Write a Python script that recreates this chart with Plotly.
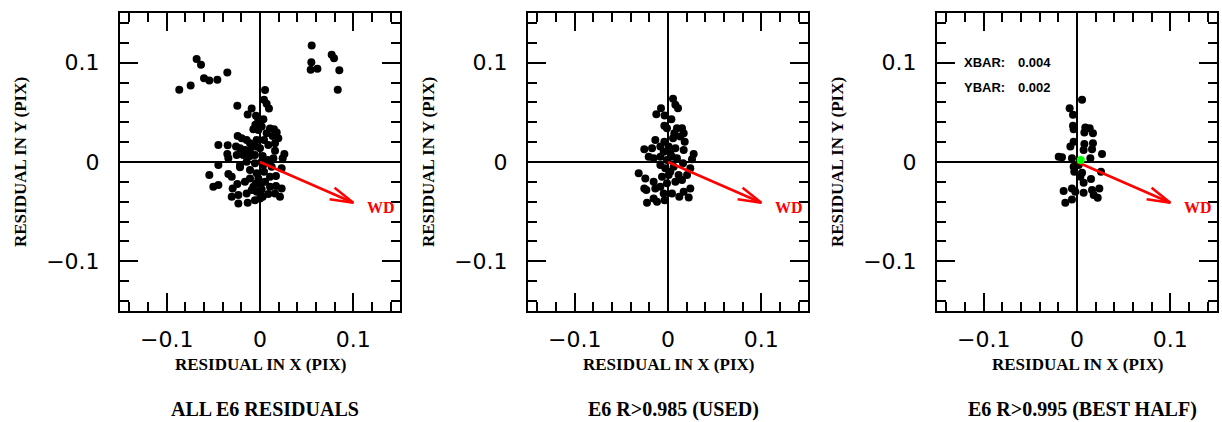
import math
import plotly.graph_objects as go

W, H = 1222, 422

# ---------------- data (residuals in pixels) ----------------
x_all = [-0.0865, -0.0743, -0.0679, -0.0632, -0.0600, -0.0543, -0.0457, -0.0350,
         0.0554, 0.0550, 0.0543, 0.0615, 0.0768, 0.0793, 0.0850, 0.0833,
         0.0054, 0.0043, 0.0071, 0.0096, -0.0243, -0.0089, -0.0132, -0.0043, 0.0036,
         -0.0050, -0.0071, -0.0018, 0.0107, 0.0150, 0.0179, 0.0071, 0.0136, 0.0196,
         -0.0239, -0.0196, -0.0143, -0.0107, -0.0036, 0.0043, 0.0089, 0.0161,
         -0.0446, -0.0346, -0.0257, -0.0214, -0.0161, -0.0107, -0.0046, 0.0000, 0.0161,
         -0.0350, -0.0339, -0.0250, -0.0179, -0.0107, -0.0054, 0.0029, 0.0089, 0.0143,
         0.0261, 0.0243, -0.0446, -0.0214, -0.0143, -0.0054, 0.0036, 0.0125, 0.0232,
         -0.0543, -0.0339, -0.0303, -0.0214, -0.0107, -0.0036, 0.0043, 0.0107, 0.0171,
         -0.0500, -0.0446, -0.0293, -0.0243, -0.0161, -0.0107, -0.0043, 0.0054, 0.0107,
         0.0171, 0.0232, -0.0303, -0.0232, -0.0143, -0.0089, -0.0036, 0.0018, 0.0089,
         0.0161, 0.0214, -0.0232, -0.0132, -0.0054, 0.0000,
         -0.0018, 0.0018, 0.0018, -0.0018, 0.0007, -0.0071, 0.0029]
y_all = [0.0727, 0.0771, 0.1037, 0.0980, 0.0842, 0.0821, 0.0828, 0.0902,
         0.1172, 0.1003, 0.0929, 0.0939, 0.1080, 0.1044, 0.0923, 0.0727,
         0.0724, 0.0626, 0.0586, 0.0539, 0.0566, 0.0539, 0.0478, 0.0465, 0.0431,
         0.0374, 0.0330, 0.0323, 0.0337, 0.0330, 0.0296, 0.0290, 0.0263, 0.0239,
         0.0263, 0.0239, 0.0222, 0.0189, 0.0222, 0.0222, 0.0172, 0.0189,
         0.0172, 0.0168, 0.0155, 0.0138, 0.0121, 0.0121, 0.0155, 0.0138, 0.0114,
         0.0081, 0.0037, 0.0071, 0.0071, 0.0061, 0.0071, 0.0061, 0.0020, 0.0037,
         0.0081, 0.0037, -0.0030, -0.0030, 0.0003, -0.0013, -0.0030, -0.0047, -0.0064,
         -0.0131, -0.0121, -0.0148, -0.0054, -0.0081, -0.0114, -0.0098, -0.0148, -0.0141,
         -0.0249, -0.0232, -0.0266, -0.0222, -0.0199, -0.0165, -0.0216, -0.0199, -0.0249,
         -0.0242, -0.0266, -0.0350, -0.0333, -0.0317, -0.0283, -0.0300, -0.0276, -0.0323,
         -0.0317, -0.0350, -0.0418, -0.0411, -0.0384, -0.0367,
         0.0424, 0.0357, 0.0003, -0.0165, -0.0232, -0.0249, -0.0350]

x_used = [0.0054, 0.0079, 0.0107, -0.0075, -0.0125, -0.0036, 0.0036, -0.0039, -0.0011,
          0.0096, 0.0150, 0.0168, 0.0068, -0.0136, -0.0039, 0.0054, 0.0132, 0.0179,
          -0.0254, -0.0171, -0.0082, 0.0007, 0.0079, 0.0168, -0.0207, -0.0154, -0.0082,
          0.0025, 0.0096, 0.0275, 0.0257, -0.0011, -0.0314, -0.0243, -0.0082, -0.0029,
          0.0061, 0.0161, 0.0239, -0.0254, -0.0232, -0.0154, -0.0136, -0.0082, -0.0011,
          0.0079, 0.0150, 0.0239, -0.0154, -0.0225, -0.0118, -0.0036, 0.0043, 0.0121,
          0.0222, 0.0168, -0.0064, 0.0007, 0.0114, 0.0204, -0.0046, 0.0043, 0.0025, -0.0046]
y_used = [0.0636, 0.0576, 0.0542, 0.0542, 0.0481, 0.0468, 0.0431, 0.0364, 0.0340,
          0.0340, 0.0340, 0.0290, 0.0290, 0.0222, 0.0205, 0.0239, 0.0256, 0.0205,
          0.0128, 0.0138, 0.0155, 0.0155, 0.0138, 0.0121, 0.0054, 0.0037, 0.0054,
          0.0088, 0.0037, 0.0081, 0.0027, 0.0020, -0.0114, -0.0165, -0.0030, -0.0064,
          -0.0047, -0.0013, -0.0064, -0.0266, -0.0283, -0.0199, -0.0266, -0.0249, -0.0215,
          -0.0199, -0.0182, -0.0266, -0.0367, -0.0411, -0.0401, -0.0384, -0.0316, -0.0350,
          -0.0357, -0.0300, -0.0148, -0.0131, -0.0131, -0.0131, 0.0104, 0.0054, -0.0098, -0.0316]

x_best = [0.0054, -0.0079, -0.0043, -0.0043, -0.0036, 0.0089, 0.0136, 0.0171, 0.0079,
          -0.0036, -0.0071, 0.0079, 0.0171, 0.0161, 0.0071, -0.0196, -0.0161, -0.0054,
          0.0143, 0.0268, 0.0257, -0.0036, -0.0029, 0.0054, 0.0036, 0.0150, 0.0071,
          -0.0054, -0.0143, -0.0018, 0.0071, 0.0161, 0.0239, 0.0179, 0.0222, -0.0054,
          -0.0125, 0.0018]
y_best = [0.0626, 0.0542, 0.0475, 0.0364, 0.0330, 0.0347, 0.0340, 0.0290, 0.0296,
          0.0205, 0.0155, 0.0182, 0.0189, 0.0128, 0.0121, 0.0054, 0.0047, 0.0037,
          0.0037, 0.0081, -0.0098, -0.0047, -0.0098, -0.0108, -0.0148, -0.0172, -0.0209,
          -0.0266, -0.0293, -0.0300, -0.0310, -0.0283, -0.0266, -0.0333, -0.0360, -0.0377,
          -0.0411, -0.0030]

xbar, ybar = 0.004, 0.002
wd_dx, wd_dy = 0.100, -0.041          # WD direction vector

panel_titles = ["ALL E6 RESIDUALS", "E6 R>0.985 (USED)", "E6 R>0.995 (BEST HALF)"]
axis_range = [-0.15, 0.15]
minor_vals = [-0.14, -0.12, -0.10, -0.08, -0.06, -0.04, -0.02, 0.0,
              0.02, 0.04, 0.06, 0.08, 0.10, 0.12, 0.14]
major_vals = [-0.1, 0.0, 0.1]
major_text = ["\u22120.1", "0", "0.1"]
x_title = "RESIDUAL IN X (PIX)"
y_title = "RESIDUAL IN Y (PIX)"

# ---------------- layout geometry ----------------
xdomains = [[120 / W, 400 / W], [528 / W, 808 / W], [937 / W, 1217 / W]]
ydomain = [1 - 311 / H, 1 - 13 / H]

fig = go.Figure()
panels = [(x_all, y_all), (x_used, y_used), (x_best, y_best)]

sx = (xdomains[0][1] - xdomains[0][0]) * W / (axis_range[1] - axis_range[0])
sy = (ydomain[1] - ydomain[0]) * H / (axis_range[1] - axis_range[0])

# arrow head (open V) computed in pixel space
ang = math.atan2(wd_dy * sy, wd_dx * sx)
back = ang + math.pi
half = math.radians(15)
blen = 24
b1 = (wd_dx + blen * math.cos(back + half) / sx, wd_dy + blen * math.sin(back + half) / sy)
b2 = (wd_dx + blen * math.cos(back - half) / sx, wd_dy + blen * math.sin(back - half) / sy)

minor_text = [major_text[major_vals.index(v)] if v in major_vals else "" for v in minor_vals]

for i, (px, py) in enumerate(panels):
    n = "" if i == 0 else str(i + 1)
    m = str(i + 4)
    xa, ya = "x" + n, "y" + n
    fig.add_trace(go.Scatter(x=px, y=py, mode="markers", xaxis=xa, yaxis=ya,
                             marker=dict(size=8, color="black", line=dict(width=0)),
                             showlegend=False, hoverinfo="skip"))
    fig.add_trace(go.Scatter(x=[0, wd_dx, None, b1[0], wd_dx, b2[0]],
                             y=[0, wd_dy, None, b1[1], wd_dy, b2[1]],
                             mode="lines", xaxis=xa, yaxis=ya,
                             line=dict(color="#ff0000", width=2.5),
                             showlegend=False, hoverinfo="skip"))
    # invisible trace on the overlay axes that carry the long ticks
    fig.add_trace(go.Scatter(x=[None], y=[None], mode="markers", xaxis="x" + m, yaxis="y" + m,
                             showlegend=False, hoverinfo="skip"))
    fig.add_annotation(x=wd_dx + 0.03, y=wd_dy - 0.005, xref=xa, yref=ya, text="<b>WD</b>",
                       xanchor="center", yanchor="middle",
                       showarrow=False, font=dict(family="Liberation Serif", size=16, color="#ff0000"))

    common = dict(range=axis_range, showgrid=False, zeroline=True, zerolinecolor="black",
                  zerolinewidth=2, showline=True, linecolor="black", linewidth=2,
                  mirror="allticks", ticks="inside", ticklen=9, tickwidth=2, tickcolor="black",
                  tickmode="array", tickvals=minor_vals, ticktext=minor_text,
                  tickfont=dict(family="DejaVu Sans", size=22, color="black"),
                  fixedrange=True)
    longt = dict(range=axis_range, showgrid=False, zeroline=False, showline=True,
                 linecolor="black", linewidth=2, mirror="allticks", ticks="inside",
                 ticklen=18, tickwidth=2, tickcolor="black", tickmode="array",
                 tickvals=[major_vals[0], major_vals[2]], showticklabels=False, fixedrange=True)
    fig.layout["xaxis" + n] = dict(domain=xdomains[i], anchor=ya, ticklabelstandoff=8, **common)
    fig.layout["yaxis" + n] = dict(domain=ydomain, anchor=xa, ticklabelstandoff=14, **common)
    fig.layout["xaxis" + m] = dict(domain=xdomains[i], anchor="y" + m, overlaying=xa, **longt)
    fig.layout["yaxis" + m] = dict(domain=ydomain, anchor="x" + m, overlaying=ya, **longt)

    cx = (xdomains[i][0] + xdomains[i][1]) / 2
    fig.add_annotation(x=cx, y=1 - 364 / H, xref="paper", yref="paper", text="<b>" + x_title + "</b>",
                       xanchor="center", yanchor="middle",
                       showarrow=False, font=dict(family="Liberation Serif", size=17, color="black"))
    fig.add_annotation(x=xdomains[i][0] - 100 / W, y=1 - 162 / H, xref="paper", yref="paper",
                       text="<b>" + y_title + "</b>", textangle=-90, xanchor="center", yanchor="middle",
                       showarrow=False, font=dict(family="Liberation Serif", size=17, color="black"))
    fig.add_annotation(x=cx + 5 / W, y=1 - 409 / H, xref="paper", yref="paper",
                       text="<b>" + panel_titles[i] + "</b>", xanchor="center", yanchor="middle",
                       showarrow=False, font=dict(family="Liberation Serif", size=20, color="black"))

# mean point and labels on panel 3
fig.add_trace(go.Scatter(x=[xbar], y=[ybar], mode="markers", xaxis="x3", yaxis="y3",
                         marker=dict(size=8, color="#00ff00", line=dict(width=0)),
                         showlegend=False, hoverinfo="skip"))
for lab, val, yy in [("XBAR:", xbar, 0.100), ("YBAR:", ybar, 0.075)]:
    fig.add_annotation(x=-0.123, y=yy, xref="x3", yref="y3", text="<b>" + lab + "</b>",
                       xanchor="left", yanchor="middle",
                       showarrow=False, font=dict(family="Liberation Sans", size=13, color="black"))
    fig.add_annotation(x=-0.065, y=yy, xref="x3", yref="y3", text="<b>%.3f</b>" % val,
                       xanchor="left", yanchor="middle",
                       showarrow=False, font=dict(family="Liberation Sans", size=13, color="black"))

fig.update_layout(width=W, height=H, margin=dict(l=0, r=0, t=0, b=0),
                  paper_bgcolor="white", plot_bgcolor="white")
fig.write_html("out.html")
